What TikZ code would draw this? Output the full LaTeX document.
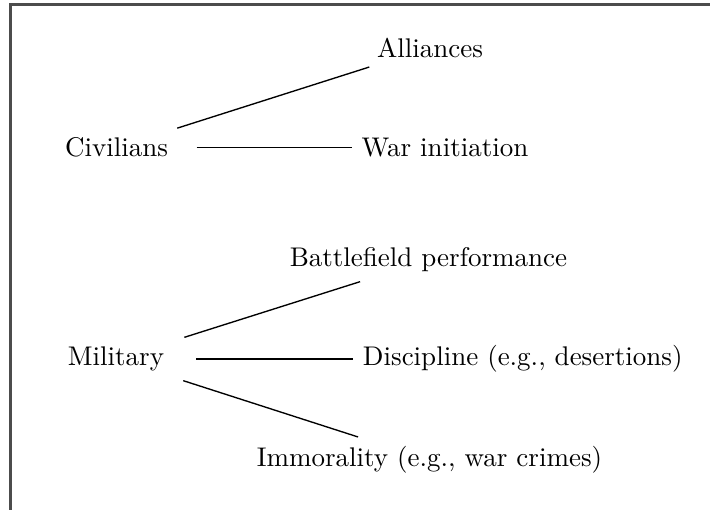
\documentclass[tikz,border=0pt]{standalone}
\begin{document}
\begin{tikzpicture}[x=0.3704pt,y=-0.3704pt,
  parent/.style={inner sep=3.33pt,minimum width=59pt,font=\normalsize},
  leaf/.style={inner sep=3.33pt,font=\normalsize},
  link/.style={draw=black,line width=0.5pt},
  frame/.style={draw=black!70,line width=0.9pt}]
\useasboundingbox (0,0) rectangle (710,510);
\coordinate (fa) at (10.5,510);
\coordinate (fb) at (10.5,4.5);
\coordinate (fc) at (710,4.5);
\draw[frame] (fa) -- (fb) -- (fc);
\node[parent] (civ) at (116.5,147.5) {Civilians};
\node[parent] (mil) at (116,359) {Military};
\node[leaf] (all) at (430,47.7) {Alliances};
\node[leaf] (war) at (445,147.5) {War initiation};
\node[leaf] (bat) at (428.5,260) {Battlefield performance};
\node[leaf] (dis) at (522.8,359) {Discipline (e.g., desertions)};
\node[leaf] (imm) at (429.5,460) {Immorality (e.g., war crimes)};
\draw[link] (civ) -- (all);
\draw[link] (civ) -- (war);
\draw[link] (mil) -- (bat);
\draw[link] (mil) -- (dis);
\draw[link] (mil) -- (imm);
\end{tikzpicture}
\end{document}
